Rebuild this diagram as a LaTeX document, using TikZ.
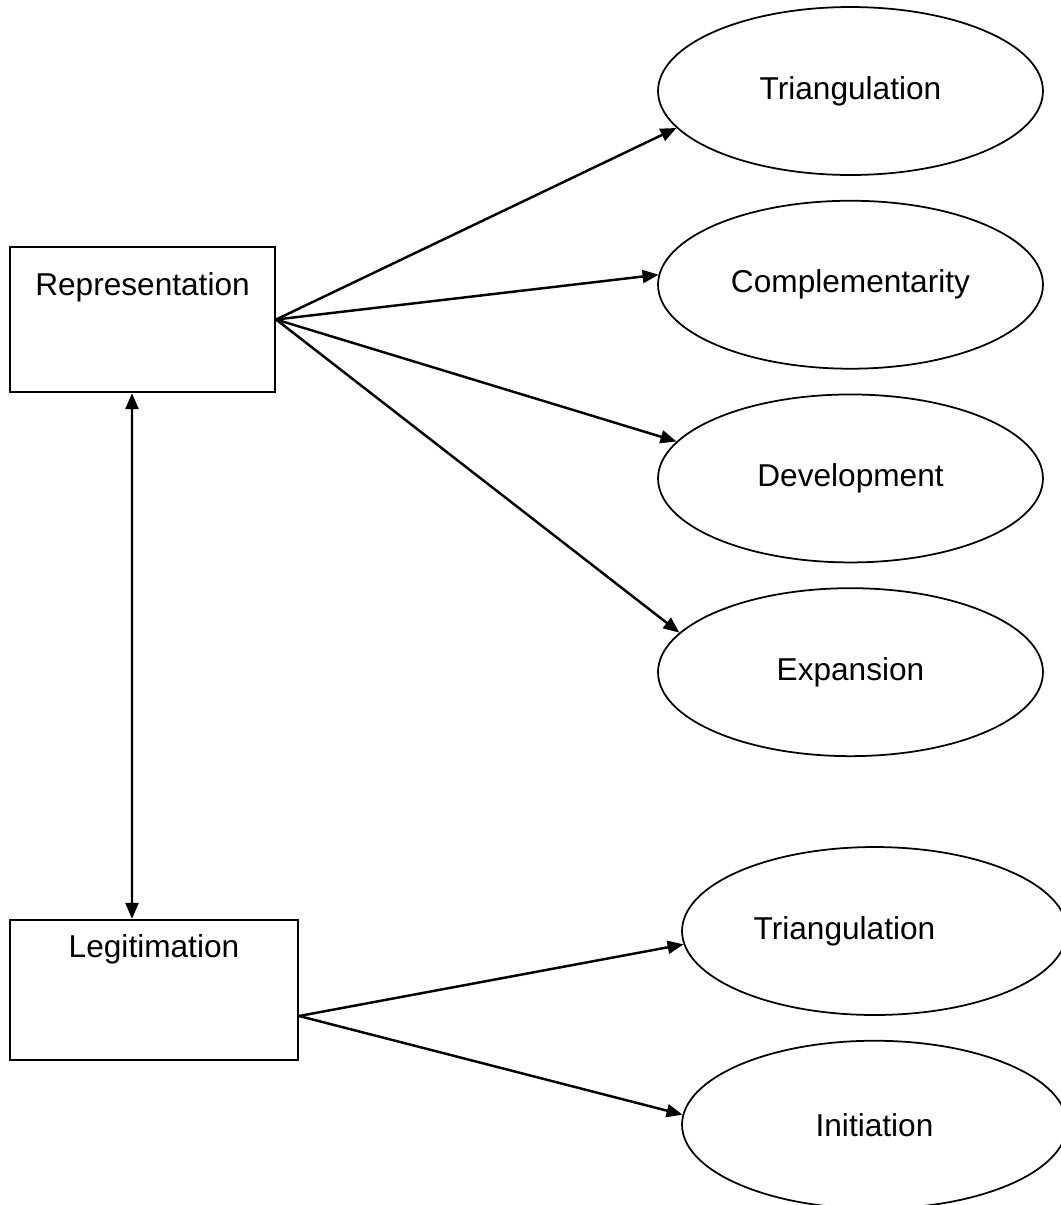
\documentclass[tikz,border=0pt]{standalone}
\usepackage{fontspec}
\setmainfont{Liberation Sans}
\usepackage{tikz}
\usetikzlibrary{%
  shapes.geometric, arrows.meta, positioning, calc
}
\usepackage{xcolor}
\tikzstyle{mbox} = [%
  rectangle,
  draw=black,
  line width=1.3pt,
  inner sep=0pt
]
\tikzstyle{mell} = [%
  ellipse,
  draw=black,
  line width=1pt,
  minimum width=7.7cm,
  minimum height=3.36cm,
  inner sep=0pt,
  align=center
]

\begin{document}
\begin{tikzpicture}[%
  x=0.02cm, y=-0.02cm,
  >={Triangle[length=0.32cm,width=0.26cm]},
  every node/.style={%
    font=\fontsize{18}{22}\selectfont,
    text=black,
    text centered
  },
  link/.style={->,line width=1.4pt}
]
  \useasboundingbox (0,0) rectangle (1061,1205);

  % Boxes
  \node[mbox,minimum width=5.3cm,minimum height=2.9cm,
        label={[anchor=center,yshift=-0.82cm]north:Representation}] (Rep) at (142.5,319.5) {};
  \node[mbox,minimum width=5.76cm,minimum height=2.8cm,
        label={[anchor=center,yshift=-0.6cm]north:Legitimation}] (Leg) at (154,990) {};

  % Outcomes
  \node[mell] (Tri1) at (850.5,91) {Triangulation};
  \node[mell,below=0.48cm of Tri1] (Comp) {Complementarity};
  \node[mell,below=0.48cm of Comp] (Dev) {Development};
  \node[mell,below=0.48cm of Dev] (Exp) {Expansion};
  \node[mell,label={[anchor=center,xshift=-0.6cm]center:Triangulation}] (Tri2) at (874.5,931) {};
  \node[mell,below=0.48cm of Tri2] (Init) {Initiation};

  % Links
  \draw[link] (Rep.east) -- (Tri1.192);
  \draw[link] (Rep.east) -- (Comp.177);
  \draw[link] (Rep.east) -- (Dev.168);
  \draw[link] (Rep.east) -- (Exp.167.5);
  \draw[link] ([yshift=-0.52cm]Leg.east) -- (Tri2.184);
  \draw[link] ([yshift=-0.52cm]Leg.east) -- (Init.177);
  \draw[<->,line width=1.4pt] ([xshift=-0.21cm]Rep.south) -- ([xshift=-0.44cm]Leg.north);

\end{tikzpicture}
\end{document}
